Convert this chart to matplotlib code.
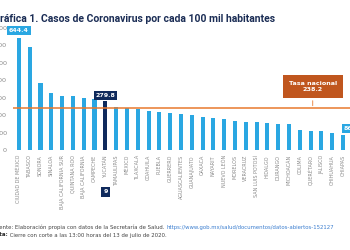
import matplotlib.pyplot as plt

# datos
estados = ['CIUDAD DE MÉXICO', 'TABASCO', 'SONORA', 'SINALOA', 'BAJA CALIFORNIA SUR',
           'QUINTANA ROO', 'BAJA CALIFORNIA', 'CAMPECHE', 'YUCATÁN', 'TAMAULIPAS',
           'MÉXICO', 'TLAXCALA', 'COAHUILA', 'PUEBLA', 'GUERRERO', 'AGUASCALIENTES',
           'GUANAJUATO', 'OAXACA', 'NAYARIT', 'NUEVO LEÓN', 'MORELOS', 'VERACRUZ',
           'SAN LUIS POTOSÍ', 'HIDALGO', 'DURANGO', 'MICHOACÁN', 'COLIMA', 'QUERÉTARO',
           'JALISCO', 'CHIHUAHUA', 'CHIAPAS']
tasas = [644.4, 592, 383, 326, 311, 310, 299, 293, 279.8, 245, 240, 237, 226, 217, 210,
         208, 201, 188, 186, 180, 164, 163, 161, 153, 149, 148, 115, 110, 109, 100, 86.3]
yticks = [0, 100, 200, 300, 400, 500, 600, 700]
tasa_nacional = 238.2
destacado = 'YUCATÁN'

azul = '#2aa7e2'
marino = '#0f2a5c'
naranja = '#e8792e'
naranja_osc = '#c0561e'
gris = '#8a8a8a'

fig = plt.figure(figsize=(3.5, 2.5), dpi=100)
ax = fig.add_axes([13 / 350, 0.4, 337 / 350, 0.502])

x = list(range(len(estados)))
colores = [marino if e == destacado else azul for e in estados]
ax.bar(x, tasas, width=0.38, color=colores, zorder=2)

ax.set_xlim(-0.55, 30.65)
ax.set_ylim(0, 720)
ax.set_yticks(yticks)
ax.set_yticklabels([str(v) for v in yticks], fontsize=4.6, color=gris)
ax.set_xticks(x)
ax.set_xticklabels(estados, rotation=90, fontsize=3.5, color=gris, va='top')
ax.tick_params(axis='both', length=0)
ax.tick_params(axis='y', pad=4.3)
ax.tick_params(axis='x', pad=3.6)
for s in ax.spines.values():
    s.set_visible(False)

# linea de tasa nacional
ax.axhline(tasa_nacional, color=naranja, lw=1.1, zorder=3)
ax.annotate('Tasa nacional\n' + str(tasa_nacional), xy=(27.2, tasa_nacional),
            xytext=(27.2, 364), ha='center', va='center', fontsize=4.6,
            fontweight='bold', color='white', linespacing=1.3,
            bbox=dict(boxstyle='square,pad=0.9', fc=naranja_osc, ec='none'),
            arrowprops=dict(arrowstyle='-', color=naranja, lw=0.6))

# etiquetas de valores
i0 = 0
ax.text(i0, tasas[i0] + 28, f'{tasas[i0]:.1f}', ha='center', va='bottom', fontsize=4.5,
        fontweight='bold', color='white',
        bbox=dict(boxstyle='square,pad=0.3', fc=azul, ec='none'), zorder=4)
iy = estados.index(destacado)
ax.text(iy, tasas[iy] + 18, f'{tasas[iy]:.1f}', ha='center', va='bottom', fontsize=4.5,
        fontweight='bold', color='white',
        bbox=dict(boxstyle='square,pad=0.3', fc=marino, ec='none'), zorder=4)
il = len(estados) - 1
ax.text(il + 0.05, tasas[il] + 22, f'{tasas[il]:.1f}', ha='left', va='bottom', fontsize=4.5,
        fontweight='bold', color='white', clip_on=False,
        bbox=dict(boxstyle='square,pad=0.3', fc=azul, ec='none'), zorder=4)
ax.annotate(str(iy + 1), xy=(iy, 0), xytext=(0, -30), textcoords='offset points',
            ha='center', va='center', fontsize=4.5, fontweight='bold', color='white',
            bbox=dict(boxstyle='square,pad=0.4', fc=marino, ec='none'))

# titulo
fig.text(-7 / 350, 1 - 19 / 250, 'Gráfica 1. Casos de Coronavirus por cada 100 mil habitantes',
         fontsize=7.5, fontweight='bold', color='#1b2d55', family='Roboto', va='center')

# notas al pie
t1 = fig.text(-7 / 350, 1 - 227 / 250, 'Fuente: Elaboración propia con datos de la Secretaría de Salud. ',
              fontsize=3.9, color='#444444', va='center')
ax.annotate('https://www.gob.mx/salud/documentos/datos-abiertos-152127', xy=(1, 0),
            xycoords=t1, va='bottom', fontsize=3.9, color='#3c7fd0', annotation_clip=False)
t2 = fig.text(-9 / 350, 1 - 235 / 250, 'Nota:', fontsize=3.9, color='#222222',
              fontweight='bold', va='center')
ax.annotate(' Cierre con corte a las 13:00 horas del 13 de julio de 2020.', xy=(1, 0),
            xycoords=t2, va='bottom', fontsize=3.9, color='#444444', annotation_clip=False)

fig.savefig('out.png', dpi=100)
